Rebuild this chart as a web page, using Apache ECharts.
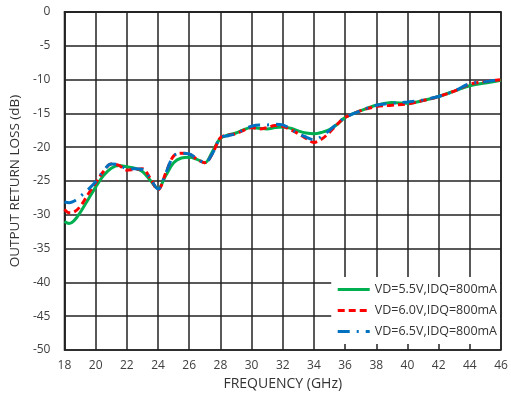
<!DOCTYPE html>
<html><head><meta charset="utf-8">
<script src="https://cdn.jsdelivr.net/npm/echarts@6/dist/echarts.min.js"></script>
<style>html,body{margin:0;padding:0;background:#fff}#c{width:511px;height:398px}</style>
</head><body><div id="c"></div>
<script>
const freq = [18,18.3,18.6,19,19.5,20,20.5,21,21.5,22,22.5,23,23.5,24,24.5,25,25.5,26,26.5,27,27.5,28,28.5,29,29.5,30,30.5,31,31.5,32,32.5,33,33.5,34,34.5,35,35.5,36,37,38,39,40,41,42,43,44,45,46];
const green = [-31.0,-31.3,-30.9,-29.7,-27.8,-25.9,-24.2,-23.1,-22.7,-22.9,-23.1,-23.6,-24.9,-26.1,-24.2,-22.3,-21.6,-21.5,-21.8,-22.3,-20.6,-18.7,-18.2,-17.9,-17.4,-17.1,-17.2,-17.3,-17.1,-17.0,-17.2,-17.6,-17.9,-18.0,-17.8,-17.4,-16.6,-15.6,-14.6,-13.8,-13.4,-13.5,-13.1,-12.5,-11.7,-10.9,-10.5,-10.1];
const red = [-29.2,-29.7,-29.6,-28.8,-27.0,-25.3,-23.6,-22.5,-22.7,-23.4,-23.3,-23.2,-24.6,-26.3,-23.8,-21.3,-20.9,-21.0,-21.8,-22.3,-20.9,-18.6,-18.2,-18.0,-17.5,-17.1,-17.3,-17.1,-16.8,-16.9,-17.4,-18.0,-18.7,-19.3,-18.8,-17.8,-16.6,-15.6,-14.6,-14.0,-13.8,-13.6,-13.1,-12.5,-11.7,-10.7,-10.3,-10.0];
const blue = [-28.1,-28.2,-28.0,-27.3,-26.3,-25.1,-23.5,-22.5,-22.6,-23.2,-23.2,-23.3,-24.6,-26.2,-23.8,-21.3,-20.9,-21.0,-21.7,-22.3,-20.9,-18.6,-18.3,-18.0,-17.4,-16.9,-16.7,-16.7,-16.6,-16.7,-17.3,-18.0,-18.5,-18.9,-18.4,-17.5,-16.5,-15.6,-14.6,-13.8,-13.5,-13.3,-13.0,-12.5,-11.7,-10.6,-10.3,-10.0];
const names = ['VD=5.5V,IDQ=800mA','VD=6.0V,IDQ=800mA','VD=6.5V,IDQ=800mA'];
const colors = ['#00b050','#ff0000','#0070c0'];
const dashes = ['solid',[7,4],[12,7,2,7]];
const values = [green, red, blue];

const font = 'Open Sans, Liberation Sans, sans-serif';
const chart = echarts.init(document.getElementById('c'), null, {renderer:'canvas'});
chart.setOption({
  animation:false,
  backgroundColor:'#fff',
  grid:{left:62,right:10,top:12,bottom:48,show:true,borderColor:'#222',borderWidth:1.5},
  xAxis:{type:'value',min:18,max:46,interval:2,
    name:'FREQUENCY (GHz)',nameLocation:'middle',nameGap:27,
    nameTextStyle:{fontFamily:font,fontSize:14,color:'#333'},
    axisLine:{show:true,lineStyle:{color:'#222',width:1.5}},
    axisTick:{show:false},
    axisLabel:{fontFamily:font,fontSize:12,color:'#404040',margin:10},
    splitLine:{show:true,lineStyle:{color:'#222',width:1.5}}},
  yAxis:{type:'value',min:-50,max:0,interval:5,
    name:'OUTPUT RETURN LOSS (dB)',nameLocation:'middle',nameGap:36,
    nameTextStyle:{fontFamily:font,fontSize:13.5,color:'#333'},
    axisLine:{show:true,lineStyle:{color:'#222',width:1.5}},
    axisTick:{show:false},
    axisLabel:{fontFamily:font,fontSize:12,color:'#404040',margin:14},
    splitLine:{show:true,lineStyle:{color:'#222',width:1.5}}},
  legend:{orient:'vertical',right:11,bottom:54,backgroundColor:'#fff',
    padding:[6,3,6,5],itemGap:8,itemWidth:32,itemHeight:14,
    itemStyle:{opacity:0},
    lineStyle:{width:3},
    textStyle:{fontFamily:font,fontSize:12.5,color:'#333'},
    data:names},
  series: names.map((n,i)=>({
    name:n,type:'line',smooth:0.35,showSymbol:false,symbol:'none',
    data:freq.map((f,j)=>[f,values[i][j]]),
    lineStyle:{color:colors[i],width:3,type:dashes[i]},
    itemStyle:{color:colors[i]},
    z:2+i
  }))
});
</script></body></html>
